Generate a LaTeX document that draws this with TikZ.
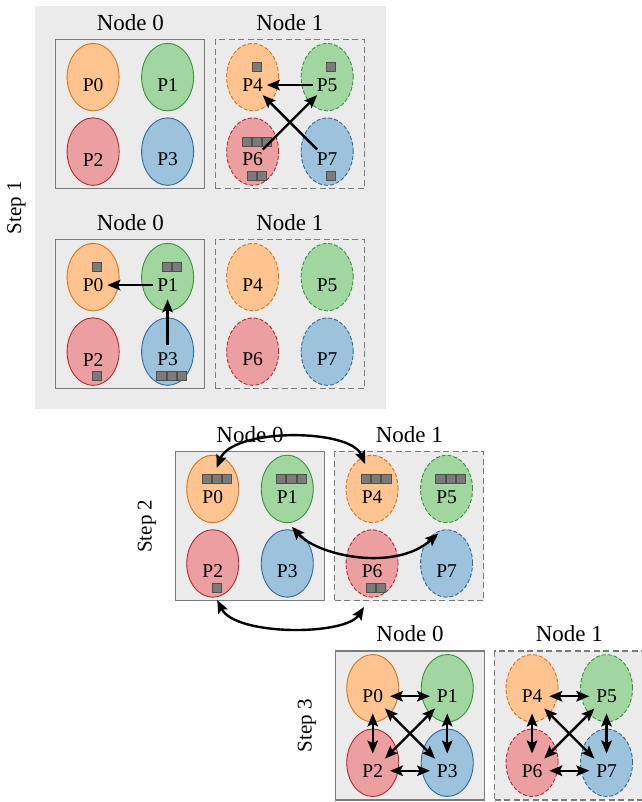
\documentclass[tikz,border=0pt]{standalone}
\usepackage{fontspec}
\setmainfont{Liberation Serif}
\usetikzlibrary{arrows.meta,calc,shapes.geometric}

\definecolor{panel}{HTML}{EBEBEB}
\definecolor{hostline}{HTML}{7A7A7A}
\definecolor{fillor}{HTML}{FFC48F}
\definecolor{drawor}{HTML}{D9731A}
\definecolor{fillgr}{HTML}{A1D6A1}
\definecolor{drawgr}{HTML}{3A913A}
\definecolor{fillrd}{HTML}{EC9FA0}
\definecolor{drawrd}{HTML}{B5282B}
\definecolor{fillbl}{HTML}{9CC2DC}
\definecolor{drawbl}{HTML}{2E6AA0}
\definecolor{tokfill}{HTML}{7B7B7B}
\definecolor{tokline}{HTML}{4F4F4F}

\tikzset{
  local box/.style={draw=hostline, line width=1.1pt, fill=panel,
    minimum width=149pt, minimum height=149pt, inner sep=0pt},
  remote box/.style={local box, dash pattern=on 6pt off 3.5pt},
  local proc/.style={ellipse, minimum width=52pt, minimum height=67.5pt,
    inner sep=0pt, line width=0.9pt},
  remote proc/.style={local proc, dash pattern=on 4pt off 2pt},
  plabel/.style={circle, minimum size=28pt, inner sep=0pt,
    font=\fontsize{19.5}{19.5}\selectfont},
  hostlabel/.style={anchor=base, inner sep=0pt, font=\fontsize{23}{23}\selectfont},
  steplabel/.style={rotate=90, inner sep=0pt, font=\fontsize{21}{21}\selectfont},
  token/.style={draw=tokline, fill=tokfill, line width=0.7pt,
    minimum size=9.2pt, inner sep=0pt},
  hd/.tip={Stealth[length=13pt, width=10.5pt, inset=2.5pt]},
  send/.style={-hd, line width=2.4pt},
  xchg/.style={hd-hd, line width=2.4pt},
}

% #1 name, #2 centre x, #3 centre y, #4 first rank, #5 local/remote, #6 title
\newcommand\hostblock[6]{%
  \node[#5 box] (#1) at (#2,#3) {};
  \node[hostlabel] (#1t) at ($(#1.north)+(0,-9)$) {#6};
  \foreach \k/\dx/\dy/\hue in {0/-1/-1/or,1/1/-1/gr,2/-1/1/rd,3/1/1/bl}{%
    \pgfmathtruncatemacro\rank{#4+\k}%
    \node[#5 proc, fill=fill\hue, draw=draw\hue] (#1p\k)
      at ($(#1)+(37.25*\dx,37.25*\dy)$) {};
    \node[plabel] (#1l\k) at ($(#1p\k)+(0,8)$) {P\rank};
  }%
}

% #1 process node, #2 count, #3 vertical offset, #4 name prefix
\newcommand\tokrow[4]{%
  \foreach \i in {1,...,#2}{%
    \node[token] (#4\i) at ($(#1)+({4+(\i-(#2+1)/2)*10.2},#3)$) {};
  }%
}

\begin{document}
\begin{tikzpicture}[x=1pt,y=-1pt]
\useasboundingbox (0,0) rectangle (641,802);

% ---------- Step 1 ----------
\fill[panel] (35,6) rectangle (385.5,409);
\node[steplabel] (step1) at (16.5,207.5) {Step 1};
\hostblock{a0}{130.35}{114.35}{0}{local}{Node 0}
\hostblock{a1}{289.9}{114.35}{4}{remote}{Node 1}
\hostblock{b0}{130.35}{314.35}{0}{local}{Node 0}
\hostblock{b1}{289.9}{314.35}{4}{remote}{Node 1}

\tokrow{a1p0}{1}{-10}{a1q0}
\tokrow{a1p1}{1}{-10}{a1q1}
\tokrow{a1p2}{3}{-10}{a1q2}
\tokrow{a1p2}{2}{24}{a1r2}
\tokrow{a1p3}{1}{24}{a1r3}
\tokrow{b0p0}{1}{-10}{b0q0}
\tokrow{b0p1}{2}{-10}{b0q1}
\tokrow{b0p2}{1}{24}{b0r2}
\tokrow{b0p3}{3}{24}{b0r3}

\draw[send] (a1l1) -- (a1l0);
\draw[send] (a1l3) -- (a1l0);
\draw[send] (a1l2) -- (a1l1);
\draw[send] (b0l1) -- (b0l0);
\draw[send] (b0l3) -- (b0l1);

% ---------- Step 2 ----------
\node[steplabel] (step2) at (147,526.2) {Step 2};
\hostblock{c0}{250}{526.2}{0}{local}{Node 0}
\hostblock{c1}{409.3}{526.2}{4}{remote}{Node 1}

\tokrow{c0p0}{3}{-10}{c0q0}
\tokrow{c0p1}{3}{-10}{c0q1}
\tokrow{c1p0}{3}{-10}{c1q0}
\tokrow{c1p1}{3}{-10}{c1q1}
\tokrow{c0p2}{1}{24}{c0r2}
\tokrow{c1p2}{2}{24}{c1r2}

\coordinate (c0e0) at ($(c0p0)+(4,-21)$);
\coordinate (c1e0) at ($(c1p0)+(-7,-25)$);
\coordinate (c0e2) at ($(c0p2)+(4.5,36.5)$);
\coordinate (c1e2) at ($(c1p2)+(-8,43.5)$);
\coordinate (c0e1) at ($(c0p1)+(4.5,37.7)$);
\coordinate (c1e3) at ($(c1p3)+(-8.3,-30)$);

\draw[xchg] (c0e0) .. controls +(15.3,-40) and +(-15,-36) .. (c1e0);
\draw[xchg] (c0e2) .. controls +(17.7,36) and +(-19,29) .. (c1e2);
\draw[xchg] (c0e1) .. controls +(26.3,29.3) and +(-43.3,38.7) .. (c1e3);

% ---------- Step 3 ----------
\node[steplabel] (step3) at (307,725.5) {Step 3};
\begin{scope}[plabel/.append style={minimum size=34pt}]
\hostblock{d0}{410}{725.5}{0}{local}{Node 0}
\hostblock{d1}{569.3}{725.5}{4}{remote}{Node 1}
\end{scope}
\foreach \h in {d0,d1}{
  \draw[xchg] (\h l0) -- (\h l1);
  \draw[xchg] (\h l2) -- (\h l3);
  \draw[xchg] (\h l0) -- (\h l2);
  \draw[xchg] (\h l1) -- (\h l3);
  \draw[xchg] (\h l0) -- (\h l3);
  \draw[xchg] (\h l1) -- (\h l2);
}
\end{tikzpicture}
\end{document}
